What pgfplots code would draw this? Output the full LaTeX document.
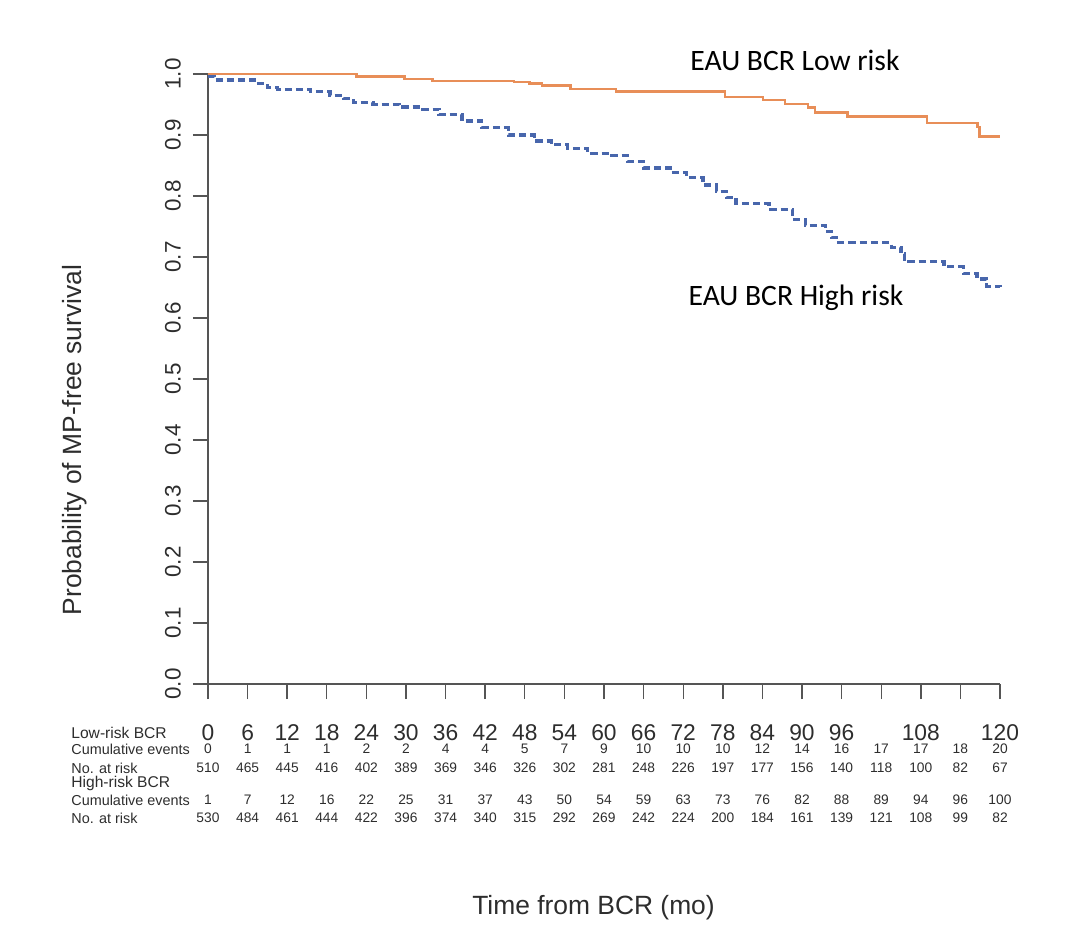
\documentclass[border=0pt]{standalone}
\usepackage{pgfplots}
\pgfplotsset{compat=1.18}
\usepackage{fontspec}
\setmainfont{Liberation Sans}
\newfontfamily\calibri{Carlito}
\definecolor{lowc}{RGB}{232,142,88}
\definecolor{highc}{RGB}{72,102,172}
\definecolor{axc}{RGB}{85,85,85}
\definecolor{txc}{RGB}{45,45,45}
\begin{document}
\begin{tikzpicture}[x=1pt,y=1pt]
\path[use as bounding box] (-104,-132) rectangle (440,342);
\begin{axis}[
  at={(0,0)}, anchor=south west,
  width=396pt, height=305pt, scale only axis,
  xmin=0, xmax=120, ymin=0, ymax=1,
  axis lines=left,
  axis line style={axc, line width=0.7pt, -},
  tick style={axc, line width=0.7pt},
  tick align=outside,
  major tick length=7.5pt,
  xtick={0,6,12,18,24,30,36,42,48,54,60,66,72,78,84,90,96,102,108,114,120},
  xticklabels={0,6,12,18,24,30,36,42,48,54,60,66,72,78,84,90,96,,108,,120},
  ytick={0,0.1,0.2,0.3,0.4,0.5,0.6,0.7,0.8,0.9,1.0},
  /pgf/number format/assume math mode=true,
  xticklabel shift=9.5pt,
  yticklabel shift=2.5pt,
  yticklabel style={rotate=90, anchor=south, txc, font=\fontsize{11.2}{11.2}\selectfont,
     /pgf/number format/.cd, fixed, fixed zerofill, precision=1},
  xticklabel style={txc, font=\fontsize{11.4}{11.4}\selectfont},
  clip=false,
]
\addplot[const plot, lowc, line width=1.2pt] coordinates {
(0,1.0) (22.5,0.9956) (29.8,0.9918) (34,0.989) (46.4,0.987) (48.7,0.9844)
(50.6,0.981) (54.9,0.975) (61.8,0.971) (78.3,0.962) (84.1,0.957) (87.4,0.951)
(90.9,0.9454) (92.0,0.937) (96.9,0.930) (108.9,0.920) (116.6,0.9136) (116.9,0.8973) (120,0.8973)
};
\addplot[const plot, highc, line width=1.6pt, dash pattern=on 3.6pt off 2pt] coordinates {
(0,0.996) (1,0.990) (7,0.985) (9,0.978) (10.5,0.975) (15.5,0.971) (18.5,0.965)
(20.5,0.960) (22,0.953) (25,0.950) (29,0.946) (32.5,0.942) (35,0.933) (38.5,0.923)
(41.5,0.912) (45.5,0.900) (49.5,0.890) (52,0.884) (54.5,0.878) (57.5,0.870)
(60.5,0.866) (63.5,0.856) (66,0.846) (70,0.838) (72.5,0.830) (75,0.818) (77,0.808)
(78.5,0.798) (80,0.788) (85,0.778) (88.5,0.762) (90.5,0.752) (93.5,0.742)
(94.5,0.732) (95.5,0.724) (103.5,0.716) (105,0.705) (105.5,0.692) (111.5,0.684)
(114.5,0.673) (116.5,0.664) (118,0.652) (120,0.650)
};
\end{axis}
% y label and x label
\node[rotate=90, txc, font=\fontsize{13.2}{13.2}\selectfont] at (-66.5,122) {Probability of MP-free survival};
\node[txc, font=\fontsize{13.2}{13.2}\selectfont] at (192.75,-112) {Time from BCR (mo)};
% annotations
\node[black, font=\calibri\fontsize{14.8}{14.8}\selectfont] at (293.5,312) {EAU BCR Low risk};
\node[black, font=\calibri\fontsize{14.8}{14.8}\selectfont] at (294,193) {EAU BCR High risk};
% risk table labels
\begin{scope}[every node/.style={anchor=west, txc, inner sep=0pt}]
\node[font=\fontsize{7.8}{7.8}\selectfont] at (-68.5,-24.5) {Low-risk BCR};
\node[font=\fontsize{7.2}{7.2}\selectfont] at (-68.5,-32.5) {Cumulative events};
\node[font=\fontsize{7.2}{7.2}\selectfont] at (-68.5,-42) {No. at risk};
\node[font=\fontsize{7.8}{7.8}\selectfont] at (-68.5,-49.5) {High-risk BCR};
\node[font=\fontsize{7.2}{7.2}\selectfont] at (-68.5,-58) {Cumulative events};
\node[font=\fontsize{7.2}{7.2}\selectfont] at (-68.5,-67) {No. at risk};
\end{scope}
\begin{scope}[every node/.style={txc, inner sep=0pt, font=\fontsize{6.9}{6.9}\selectfont}]
\foreach \v [count=\i from 0] in {0,1,1,1,2,2,4,4,5,7,9,10,10,10,12,14,16,17,17,18,20}
  \node at (\i*19.8,-32.5) {\v};
\foreach \v [count=\i from 0] in {510,465,445,416,402,389,369,346,326,302,281,248,226,197,177,156,140,118,100,82,67}
  \node at (\i*19.8,-42) {\v};
\foreach \v [count=\i from 0] in {1,7,12,16,22,25,31,37,43,50,54,59,63,73,76,82,88,89,94,96,100}
  \node at (\i*19.8,-58) {\v};
\foreach \v [count=\i from 0] in {530,484,461,444,422,396,374,340,315,292,269,242,224,200,184,161,139,121,108,99,82}
  \node at (\i*19.8,-67) {\v};
\end{scope}
\end{tikzpicture}
\end{document}
